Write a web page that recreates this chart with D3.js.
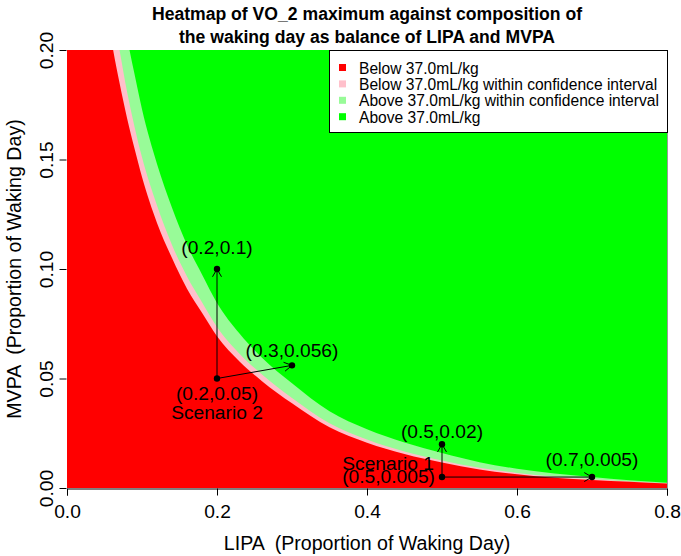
<!DOCTYPE html>
<html><head><meta charset="utf-8">
<script src="https://cdn.jsdelivr.net/npm/d3@7"></script>
<style>body{margin:0;background:#fff}text{font-family:"Liberation Sans",Arial,sans-serif;white-space:pre}</style>
</head><body><svg id="c" width="681" height="556"></svg>
<script>
// ---- data ----
const lipaTicks = [0, 0.2, 0.4, 0.6, 0.8];
const mvpaTicks = [0, 0.05, 0.1, 0.15, 0.2];
const tickLabelsX = ["0.0", "0.2", "0.4", "0.6", "0.8"];
const tickLabelsY = ["0.00", "0.05", "0.10", "0.15", "0.20"];
// LIPA grid on which the three boundaries were read
const gridLIPA = [0, 0.04, 0.05, 0.06, 0.07, 0.08, 0.09, 0.10, 0.12, 0.14, 0.16, 0.18, 0.20, 0.23, 0.26, 0.30, 0.35, 0.40, 0.45, 0.50, 0.55, 0.60, 0.65, 0.70, 0.75, 0.80];
// upper confidence limit (light green / green)
const upperMVPA  = [0.50, 0.318, 0.280, 0.252, 0.227, 0.206, 0.189, 0.173, 0.148, 0.128, 0.111, 0.0975, 0.0845, 0.0705, 0.0595, 0.0478, 0.0350, 0.0268, 0.0208, 0.0160, 0.0118, 0.0088, 0.0066, 0.0050, 0.0035, 0.0024];
// 37.0 mL/kg threshold (pink / light green)
const threshMVPA = [0.45, 0.280, 0.243, 0.219, 0.200, 0.181, 0.165, 0.151, 0.129, 0.111, 0.0966, 0.0848, 0.0735, 0.0613, 0.0518, 0.0411, 0.0296, 0.0222, 0.0167, 0.0126, 0.0092, 0.0069, 0.0052, 0.0041, 0.0030, 0.0022];
// lower confidence limit (red / pink)
const lowerMVPA  = [0.42, 0.262, 0.226, 0.203, 0.185, 0.169, 0.155, 0.142, 0.121, 0.105, 0.091, 0.080, 0.0693, 0.0578, 0.0488, 0.0387, 0.0277, 0.0207, 0.0155, 0.0116, 0.0085, 0.0063, 0.0047, 0.0037, 0.0028, 0.0020];
const legendLabels = ["Below 37.0mL/kg", "Below 37.0mL/kg within confidence interval", "Above 37.0mL/kg within confidence interval", "Above 37.0mL/kg"];
const legendColors = ["#FF0000", "#FFC0CB", "#98FB98", "#00FF00"];
const scenFromLIPA = [0.2, 0.2, 0.5, 0.5];
const scenFromMVPA = [0.05, 0.05, 0.005, 0.005];
const scenToLIPA = [0.2, 0.3, 0.5, 0.7];
const scenToMVPA = [0.1, 0.056, 0.02, 0.005];
const pointLabels = ["(0.2,0.05)", "(0.5,0.005)", "(0.2,0.1)", "(0.3,0.056)", "(0.5,0.02)", "(0.7,0.005)"];
const scenarioNames = ["Scenario 2", "Scenario 1"];

// ---- layout ----
const svg = d3.select("#c");
const L = 67, R = 667, T = 50, B = 488;
const x = d3.scaleLinear().domain([0, 0.8]).range([L, R]);
const y = d3.scaleLinear().domain([0, 0.2]).range([B, T]);
const FS = 19.2;

svg.append("defs").append("clipPath").attr("id", "clip")
  .append("rect").attr("x", L).attr("y", T).attr("width", R - L).attr("height", B - T);
const g = svg.append("g").attr("clip-path", "url(#clip)");
g.append("rect").attr("x", L).attr("y", T).attr("width", R - L).attr("height", B - T).attr("fill", legendColors[3]);

function band(my, color) {
  const pts = gridLIPA.map((v, i) => [v, my[i]]);
  const area = d3.area().x(d => x(d[0])).y0(y(0) + 2).y1(d => y(d[1])).curve(d3.curveMonotoneX);
  g.append("path").attr("d", area(pts)).attr("fill", color);
}
band(upperMVPA, legendColors[2]);
band(threshMVPA, legendColors[1]);
band(lowerMVPA, legendColors[0]);

svg.append("line").attr("x1", R + 0.5).attr("x2", R + 0.5).attr("y1", T).attr("y2", B).attr("stroke", "#9a9a9a");

// axes
const xAxis = svg.append("g").attr("transform", `translate(0,${B + 0.5})`)
  .call(d3.axisBottom(x).tickValues(lipaTicks).tickFormat((d, i) => tickLabelsX[i]).tickSizeOuter(0).tickSize(7).tickPadding(4));
const yAxis = svg.append("g").attr("transform", `translate(${L - 0.5},0)`)
  .call(d3.axisLeft(y).tickValues(mvpaTicks).tickFormat((d, i) => tickLabelsY[i]).tickSizeOuter(0).tickSize(7));
[xAxis, yAxis].forEach(a => {
  a.selectAll("path,line").attr("stroke", "#000");
  a.selectAll("text").attr("font-size", FS).attr("font-family", "Liberation Sans, Arial, sans-serif").attr("fill", "#000");
});
yAxis.select(".domain").remove();
yAxis.selectAll(".tick text").each(function () {
  d3.select(this).attr("text-anchor", "middle").attr("x", null).attr("dy", null).attr("y", 0)
    .attr("transform", "translate(-14,0) rotate(-90)");
});
xAxis.selectAll(".tick text").attr("dy", null).attr("y", 29);

// titles
svg.append("text").attr("x", (L + R) / 2).attr("y", 20).attr("text-anchor", "middle")
  .attr("font-size", 17.6).attr("font-weight", "bold").text("Heatmap of VO_2 maximum against composition of");
svg.append("text").attr("x", (L + R) / 2).attr("y", 43).attr("text-anchor", "middle")
  .attr("font-size", 17.6).attr("font-weight", "bold").text("the waking day as balance of LIPA and MVPA");
svg.append("text").attr("x", (L + R) / 2).attr("y", 550).attr("text-anchor", "middle")
  .attr("font-size", 19.6).text("LIPA  (Proportion of Waking Day)");
svg.append("text").attr("transform", `translate(21,${(T + B) / 2}) rotate(-90)`).attr("text-anchor", "middle")
  .attr("font-size", 19.6).text("MVPA  (Proportion of Waking Day)");

// legend
const lg = svg.append("g");
lg.append("rect").attr("x", 329.5).attr("y", 50.5).attr("width", 338).attr("height", 82).attr("fill", "#fff").attr("stroke", "#000");
legendLabels.forEach((lab, i) => {
  const base = 73.5 + i * 16.4;
  lg.append("rect").attr("x", 339).attr("y", base - 9.5).attr("width", 7).attr("height", 7).attr("fill", legendColors[i]);
  lg.append("text").attr("x", 359).attr("y", base).attr("font-size", 15.6).text(lab);
});

// scenarios
const ann = svg.append("g");
function arrow(x0, y0, x1, y1) {
  const X0 = x(x0), Y0 = y(y0), X1 = x(x1), Y1 = y(y1);
  ann.append("line").attr("x1", X0).attr("y1", Y0).attr("x2", X1).attr("y2", Y1).attr("stroke", "#000");
  const a = Math.atan2(Y1 - Y0, X1 - X0), len = 9, sp = Math.PI / 6;
  [a + sp, a - sp].forEach(b => {
    ann.append("line").attr("x1", X1).attr("y1", Y1)
      .attr("x2", X1 - len * Math.cos(b)).attr("y2", Y1 - len * Math.sin(b)).attr("stroke", "#000");
  });
}
scenFromLIPA.forEach((v, i) => arrow(v, scenFromMVPA[i], scenToLIPA[i], scenToMVPA[i]));
const ptsL = [0.2, 0.5].concat(scenToLIPA), ptsM = [0.05, 0.005].concat(scenToMVPA);
ptsL.forEach((v, i) => ann.append("circle").attr("cx", x(v)).attr("cy", y(ptsM[i])).attr("r", 3.2).attr("fill", "#000"));

// label offsets (dx, dy of baseline from point, anchor)
const labelPos = [[0, 21, "middle"], [-7, 6, "end"], [0, -15, "middle"], [0, -8, "middle"], [0, -6, "middle"], [0, -11, "middle"]];
pointLabels.forEach((t, i) => {
  const p = labelPos[i];
  ann.append("text").attr("x", x(ptsL[i]) + p[0]).attr("y", y(ptsM[i]) + p[1]).attr("text-anchor", p[2])
    .attr("font-size", FS).text(t);
});
ann.append("text").attr("x", x(0.2)).attr("y", y(0.05) + 40).attr("text-anchor", "middle").attr("font-size", FS).text(scenarioNames[0]);
ann.append("text").attr("x", x(0.5) - 8).attr("y", y(0.005) - 7).attr("text-anchor", "end").attr("font-size", FS).text(scenarioNames[1]);
</script></body></html>
